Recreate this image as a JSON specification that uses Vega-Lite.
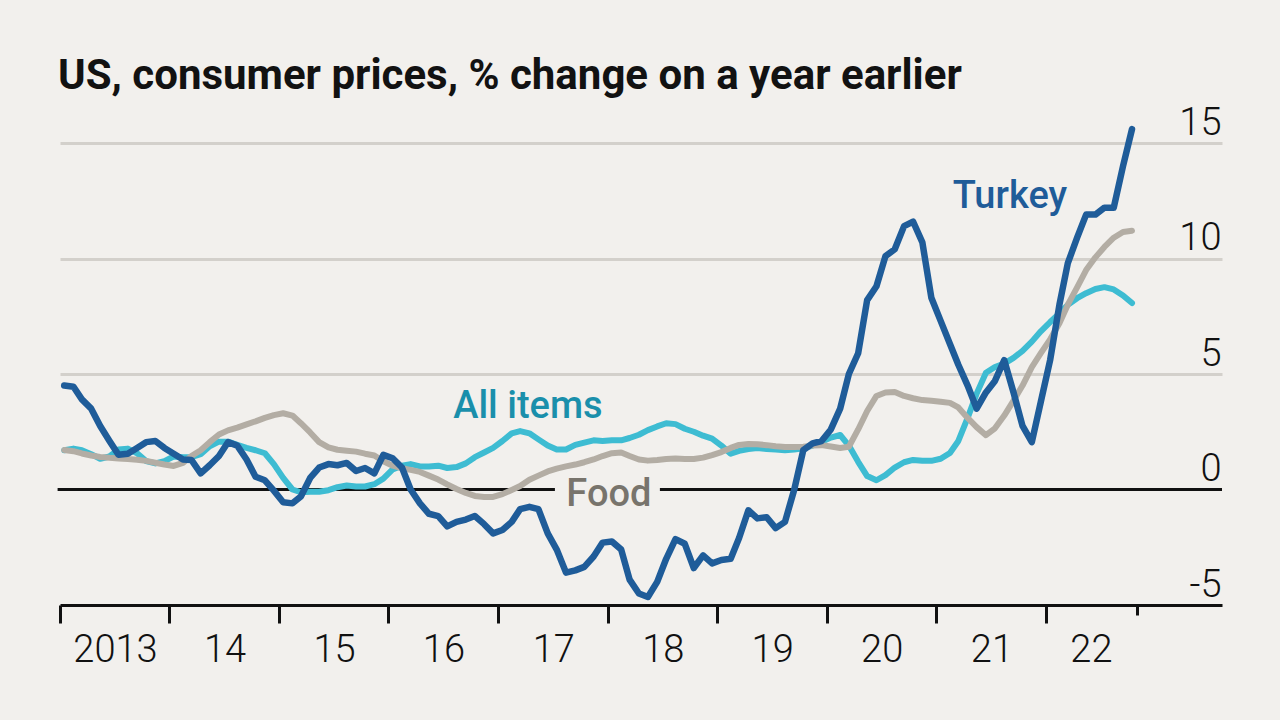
{
  "$schema": "https://vega.github.io/schema/vega-lite/v6.json",
  "width": 1162,
  "height": 462,
  "autosize": {"type": "none"},
  "padding": {"left": 60, "top": 143, "right": 58, "bottom": 115},
  "background": "#f2f0ed",
  "config": {"view": {"stroke": null}},
  "title": {
    "text": "US, consumer prices, % change on a year earlier",
    "anchor": "start",
    "frame": "group",
    "font": "Roboto",
    "fontSize": 42,
    "fontWeight": "bold",
    "color": "#121212",
    "offset": 6,
    "dx": -2
  },
  "datasets": {
    "cpi": [
      {"d": "2013-01-15", "All items": 1.70, "Food": 1.71, "Turkey": 4.5},
      {"d": "2013-02-15", "All items": 1.77, "Food": 1.66, "Turkey": 4.45},
      {"d": "2013-03-15", "All items": 1.70, "Food": 1.56, "Turkey": 3.9},
      {"d": "2013-04-15", "All items": 1.53, "Food": 1.47, "Turkey": 3.5},
      {"d": "2013-05-15", "All items": 1.33, "Food": 1.41, "Turkey": 2.75},
      {"d": "2013-06-15", "All items": 1.43, "Food": 1.37, "Turkey": 2.1},
      {"d": "2013-07-15", "All items": 1.73, "Food": 1.34, "Turkey": 1.5},
      {"d": "2013-08-15", "All items": 1.77, "Food": 1.32, "Turkey": 1.55},
      {"d": "2013-09-15", "All items": 1.57, "Food": 1.29, "Turkey": 1.8},
      {"d": "2013-10-15", "All items": 1.23, "Food": 1.24, "Turkey": 2.05},
      {"d": "2013-11-15", "All items": 1.13, "Food": 1.16, "Turkey": 2.1},
      {"d": "2013-12-15", "All items": 1.23, "Food": 1.08, "Turkey": 1.8},
      {"d": "2014-01-15", "All items": 1.43, "Food": 1.02, "Turkey": 1.55},
      {"d": "2014-02-15", "All items": 1.40, "Food": 1.15, "Turkey": 1.3},
      {"d": "2014-03-15", "All items": 1.40, "Food": 1.45, "Turkey": 1.28},
      {"d": "2014-04-15", "All items": 1.53, "Food": 1.70, "Turkey": 0.7},
      {"d": "2014-05-15", "All items": 1.87, "Food": 2.05, "Turkey": 1.05},
      {"d": "2014-06-15", "All items": 2.07, "Food": 2.38, "Turkey": 1.45},
      {"d": "2014-07-15", "All items": 2.07, "Food": 2.56, "Turkey": 2.05},
      {"d": "2014-08-15", "All items": 1.93, "Food": 2.68, "Turkey": 1.9},
      {"d": "2014-09-15", "All items": 1.80, "Food": 2.82, "Turkey": 1.3},
      {"d": "2014-10-15", "All items": 1.70, "Food": 2.95, "Turkey": 0.55},
      {"d": "2014-11-15", "All items": 1.57, "Food": 3.10, "Turkey": 0.4},
      {"d": "2014-12-15", "All items": 1.10, "Food": 3.22, "Turkey": -0.05},
      {"d": "2015-01-15", "All items": 0.50, "Food": 3.30, "Turkey": -0.55},
      {"d": "2015-02-15", "All items": 0.00, "Food": 3.20, "Turkey": -0.6},
      {"d": "2015-03-15", "All items": -0.12, "Food": 2.87, "Turkey": -0.3},
      {"d": "2015-04-15", "All items": -0.10, "Food": 2.47, "Turkey": 0.5},
      {"d": "2015-05-15", "All items": -0.10, "Food": 2.05, "Turkey": 0.95},
      {"d": "2015-06-15", "All items": -0.03, "Food": 1.82, "Turkey": 1.1},
      {"d": "2015-07-15", "All items": 0.10, "Food": 1.72, "Turkey": 1.05},
      {"d": "2015-08-15", "All items": 0.17, "Food": 1.68, "Turkey": 1.15},
      {"d": "2015-09-15", "All items": 0.13, "Food": 1.64, "Turkey": 0.8},
      {"d": "2015-10-15", "All items": 0.13, "Food": 1.55, "Turkey": 0.93},
      {"d": "2015-11-15", "All items": 0.23, "Food": 1.47, "Turkey": 0.7},
      {"d": "2015-12-15", "All items": 0.47, "Food": 1.22, "Turkey": 1.5},
      {"d": "2016-01-15", "All items": 0.87, "Food": 1.03, "Turkey": 1.35},
      {"d": "2016-02-15", "All items": 1.03, "Food": 0.92, "Turkey": 0.95},
      {"d": "2016-03-15", "All items": 1.10, "Food": 0.85, "Turkey": 0.0},
      {"d": "2016-04-15", "All items": 1.00, "Food": 0.76, "Turkey": -0.6},
      {"d": "2016-05-15", "All items": 1.00, "Food": 0.60, "Turkey": -1.05},
      {"d": "2016-06-15", "All items": 1.03, "Food": 0.43, "Turkey": -1.15},
      {"d": "2016-07-15", "All items": 0.93, "Food": 0.22, "Turkey": -1.6},
      {"d": "2016-08-15", "All items": 0.97, "Food": 0.02, "Turkey": -1.4},
      {"d": "2016-09-15", "All items": 1.13, "Food": -0.15, "Turkey": -1.3},
      {"d": "2016-10-15", "All items": 1.40, "Food": -0.28, "Turkey": -1.15},
      {"d": "2016-11-15", "All items": 1.60, "Food": -0.32, "Turkey": -1.5},
      {"d": "2016-12-15", "All items": 1.80, "Food": -0.32, "Turkey": -1.9},
      {"d": "2017-01-15", "All items": 2.10, "Food": -0.20, "Turkey": -1.75},
      {"d": "2017-02-15", "All items": 2.43, "Food": -0.02, "Turkey": -1.4},
      {"d": "2017-03-15", "All items": 2.53, "Food": 0.15, "Turkey": -0.85},
      {"d": "2017-04-15", "All items": 2.43, "Food": 0.42, "Turkey": -0.75},
      {"d": "2017-05-15", "All items": 2.17, "Food": 0.60, "Turkey": -0.85},
      {"d": "2017-06-15", "All items": 1.90, "Food": 0.78, "Turkey": -1.9},
      {"d": "2017-07-15", "All items": 1.73, "Food": 0.90, "Turkey": -2.6},
      {"d": "2017-08-15", "All items": 1.73, "Food": 1.00, "Turkey": -3.6},
      {"d": "2017-09-15", "All items": 1.93, "Food": 1.08, "Turkey": -3.5},
      {"d": "2017-10-15", "All items": 2.03, "Food": 1.18, "Turkey": -3.35},
      {"d": "2017-11-15", "All items": 2.13, "Food": 1.30, "Turkey": -2.9},
      {"d": "2017-12-15", "All items": 2.10, "Food": 1.45, "Turkey": -2.3},
      {"d": "2018-01-15", "All items": 2.13, "Food": 1.57, "Turkey": -2.25},
      {"d": "2018-02-15", "All items": 2.13, "Food": 1.60, "Turkey": -2.6},
      {"d": "2018-03-15", "All items": 2.23, "Food": 1.45, "Turkey": -3.9},
      {"d": "2018-04-15", "All items": 2.37, "Food": 1.30, "Turkey": -4.5},
      {"d": "2018-05-15", "All items": 2.57, "Food": 1.25, "Turkey": -4.65},
      {"d": "2018-06-15", "All items": 2.73, "Food": 1.28, "Turkey": -4.0},
      {"d": "2018-07-15", "All items": 2.87, "Food": 1.32, "Turkey": -3.0},
      {"d": "2018-08-15", "All items": 2.83, "Food": 1.34, "Turkey": -2.15},
      {"d": "2018-09-15", "All items": 2.63, "Food": 1.32, "Turkey": -2.35},
      {"d": "2018-10-15", "All items": 2.50, "Food": 1.32, "Turkey": -3.4},
      {"d": "2018-11-15", "All items": 2.33, "Food": 1.38, "Turkey": -2.85},
      {"d": "2018-12-15", "All items": 2.20, "Food": 1.49, "Turkey": -3.2},
      {"d": "2019-01-15", "All items": 1.90, "Food": 1.62, "Turkey": -3.05},
      {"d": "2019-02-15", "All items": 1.55, "Food": 1.80, "Turkey": -3.0},
      {"d": "2019-03-15", "All items": 1.67, "Food": 1.93, "Turkey": -2.1},
      {"d": "2019-04-15", "All items": 1.75, "Food": 1.97, "Turkey": -0.9},
      {"d": "2019-05-15", "All items": 1.80, "Food": 1.96, "Turkey": -1.25},
      {"d": "2019-06-15", "All items": 1.75, "Food": 1.92, "Turkey": -1.2},
      {"d": "2019-07-15", "All items": 1.73, "Food": 1.87, "Turkey": -1.67},
      {"d": "2019-08-15", "All items": 1.70, "Food": 1.84, "Turkey": -1.4},
      {"d": "2019-09-15", "All items": 1.73, "Food": 1.84, "Turkey": 0.0},
      {"d": "2019-10-15", "All items": 1.78, "Food": 1.85, "Turkey": 1.7},
      {"d": "2019-11-15", "All items": 1.90, "Food": 1.90, "Turkey": 2.0},
      {"d": "2019-12-15", "All items": 2.07, "Food": 1.92, "Turkey": 2.1},
      {"d": "2020-01-15", "All items": 2.25, "Food": 1.86, "Turkey": 2.6},
      {"d": "2020-02-15", "All items": 2.36, "Food": 1.80, "Turkey": 3.5},
      {"d": "2020-03-15", "All items": 1.90, "Food": 1.85, "Turkey": 5.0},
      {"d": "2020-04-15", "All items": 1.20, "Food": 2.60, "Turkey": 5.9},
      {"d": "2020-05-15", "All items": 0.58, "Food": 3.40, "Turkey": 8.2},
      {"d": "2020-06-15", "All items": 0.40, "Food": 4.05, "Turkey": 8.8},
      {"d": "2020-07-15", "All items": 0.62, "Food": 4.20, "Turkey": 10.1},
      {"d": "2020-08-15", "All items": 0.95, "Food": 4.22, "Turkey": 10.4},
      {"d": "2020-09-15", "All items": 1.18, "Food": 4.05, "Turkey": 11.4},
      {"d": "2020-10-15", "All items": 1.28, "Food": 3.95, "Turkey": 11.6},
      {"d": "2020-11-15", "All items": 1.24, "Food": 3.87, "Turkey": 10.7},
      {"d": "2020-12-15", "All items": 1.24, "Food": 3.84, "Turkey": 8.3},
      {"d": "2021-01-15", "All items": 1.33, "Food": 3.80, "Turkey": 7.3},
      {"d": "2021-02-15", "All items": 1.58, "Food": 3.75, "Turkey": 6.3},
      {"d": "2021-03-15", "All items": 2.10, "Food": 3.55, "Turkey": 5.4},
      {"d": "2021-04-15", "All items": 3.10, "Food": 3.10, "Turkey": 4.5},
      {"d": "2021-05-15", "All items": 4.15, "Food": 2.70, "Turkey": 3.5},
      {"d": "2021-06-15", "All items": 5.05, "Food": 2.35, "Turkey": 4.2},
      {"d": "2021-07-15", "All items": 5.30, "Food": 2.65, "Turkey": 4.7},
      {"d": "2021-08-15", "All items": 5.45, "Food": 3.20, "Turkey": 5.6},
      {"d": "2021-09-15", "All items": 5.70, "Food": 3.85, "Turkey": 4.2},
      {"d": "2021-10-15", "All items": 6.00, "Food": 4.50, "Turkey": 2.75},
      {"d": "2021-11-15", "All items": 6.40, "Food": 5.30, "Turkey": 2.05},
      {"d": "2021-12-15", "All items": 6.85, "Food": 5.90, "Turkey": 3.8},
      {"d": "2022-01-15", "All items": 7.25, "Food": 6.50, "Turkey": 5.6},
      {"d": "2022-02-15", "All items": 7.62, "Food": 7.20, "Turkey": 8.0},
      {"d": "2022-03-15", "All items": 8.00, "Food": 8.00, "Turkey": 9.8},
      {"d": "2022-04-15", "All items": 8.28, "Food": 8.75, "Turkey": 10.9},
      {"d": "2022-05-15", "All items": 8.50, "Food": 9.50, "Turkey": 11.9},
      {"d": "2022-06-15", "All items": 8.68, "Food": 10.05, "Turkey": 11.9},
      {"d": "2022-07-15", "All items": 8.76, "Food": 10.50, "Turkey": 12.2},
      {"d": "2022-08-15", "All items": 8.66, "Food": 10.90, "Turkey": 12.2},
      {"d": "2022-09-15", "All items": 8.40, "Food": 11.15, "Turkey": 14.0},
      {"d": "2022-10-15", "All items": 8.07, "Food": 11.20, "Turkey": 15.6}
    ],
    "zero": [
      {"d": "2012-12-24", "v": 0, "seg": "a"},
      {"d": "2017-07-09", "v": 0, "seg": "a"},
      {"d": "2018-06-24", "v": 0, "seg": "b"},
      {"d": "2023-08-11", "v": 0, "seg": "b"}
    ],
    "labels": [
      {"label": "Turkey", "d": "2021-09-03", "v": 12.19},
      {"label": "All items", "d": "2017-04-10", "v": 3.1},
      {"label": "Food", "d": "2018-01-05", "v": -0.71}
    ]
  },
  "encoding": {
    "x": {
      "field": "d",
      "type": "temporal",
      "scale": {"domain": [{"year": 2013, "month": 1, "date": 1}, {"year": 2023, "month": 8, "date": 11}]},
      "axis": {
        "title": null,
        "values": [
          {"year": 2013, "month": 1, "date": 1},
          {"year": 2014, "month": 1, "date": 1},
          {"year": 2015, "month": 1, "date": 1},
          {"year": 2016, "month": 1, "date": 1},
          {"year": 2017, "month": 1, "date": 1},
          {"year": 2018, "month": 1, "date": 1},
          {"year": 2019, "month": 1, "date": 1},
          {"year": 2020, "month": 1, "date": 1},
          {"year": 2021, "month": 1, "date": 1},
          {"year": 2022, "month": 1, "date": 1},
          {"year": 2022, "month": 10, "date": 31}
        ],
        "labelExpr": "month(datum.value) != 0 ? '' : (year(datum.value) == 2013 ? '2013' : timeFormat(datum.value, '%y'))",
        "labelOffset": {"condition": {"test": "year(datum.value) == 2022", "value": 45}, "value": 55},
        "tickSize": {"condition": {"test": "month(datum.value) != 0", "value": 10}, "value": 18},
        "grid": false,
        "domain": true,
        "domainColor": "#111111",
        "domainWidth": 3,
        "ticks": true,
        "tickColor": "#111111",
        "tickWidth": 3,
        "labelFont": "Roboto",
        "labelFontWeight": 300,
        "labelFontSize": 38,
        "labelColor": "#111111",
        "labelPadding": 8,
        "labelFlush": false,
        "labelOverlap": false,
        "labelBound": false
      }
    },
    "y": {
      "field": "v",
      "type": "quantitative",
      "scale": {"domain": [-5, 15], "nice": false, "zero": false},
      "axis": {
        "title": null,
        "orient": "right",
        "values": [-5, 0, 5, 10, 15],
        "labelExpr": "'' + datum.value",
        "domain": false,
        "ticks": false,
        "tickSize": 0,
        "labelAlign": "right",
        "labelBaseline": "alphabetic",
        "labelOffset": -9,
        "labelPadding": -1,
        "labelFont": "Roboto",
        "labelFontWeight": 300,
        "labelFontSize": 38,
        "labelColor": "#111111",
        "labelFlush": false,
        "labelOverlap": false,
        "labelBound": false,
        "grid": true,
        "gridColor": {"condition": {"test": "datum.value <= 0", "value": "transparent"}, "value": "#d3d0cb"},
        "gridWidth": 3
      }
    }
  },
  "layer": [
    {
      "data": {"name": "zero"},
      "mark": {"type": "line", "color": "#111111", "strokeWidth": 3, "strokeCap": "butt"},
      "encoding": {
        "detail": {"field": "seg", "type": "nominal"}
      }
    },
    {
      "data": {"name": "cpi"},
      "transform": [{"fold": ["All items", "Food", "Turkey"], "as": ["series", "v"]}, {"filter": "datum.series == 'All items'"}],
      "mark": {"type": "line", "color": "#3ebcd2", "strokeWidth": 6, "strokeCap": "round", "strokeJoin": "round"}
    },
    {
      "data": {"name": "cpi"},
      "transform": [{"fold": ["All items", "Food", "Turkey"], "as": ["series", "v"]}, {"filter": "datum.series == 'Food'"}],
      "mark": {"type": "line", "color": "#b3ada4", "strokeWidth": 6, "strokeCap": "round", "strokeJoin": "round"}
    },
    {
      "data": {"name": "cpi"},
      "transform": [{"fold": ["All items", "Food", "Turkey"], "as": ["series", "v"]}, {"filter": "datum.series == 'Turkey'"}],
      "mark": {"type": "line", "color": "#1f5c99", "strokeWidth": 6.5, "strokeCap": "round", "strokeJoin": "round"}
    },
    {
      "data": {"name": "labels"},
      "mark": {"type": "text", "font": "Roboto", "fontSize": 38, "fontWeight": 500, "align": "center", "baseline": "alphabetic"},
      "encoding": {
        "text": {"field": "label"},
        "color": {
          "field": "label",
          "type": "nominal",
          "legend": null,
          "scale": {"domain": ["Turkey", "All items", "Food"], "range": ["#1f5c99", "#1a8fab", "#78746c"]}
        }
      }
    }
  ]
}
